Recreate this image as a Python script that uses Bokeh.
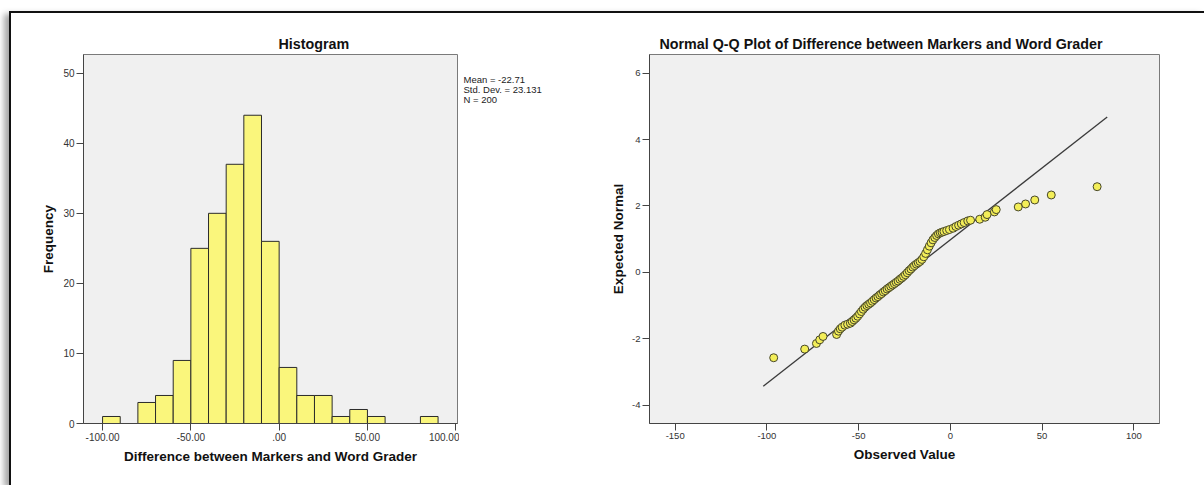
from bokeh.plotting import figure
from bokeh.layouts import row
from bokeh.models import Range1d, FixedTicker
from bokeh.core.properties import value
from bokeh.embed import file_html
from bokeh.resources import INLINE

FONT = "Liberation Sans"

# ---- Histogram of the differences (bin width 10) ----
bin_left = [-100, -90, -80, -70, -60, -50, -40, -30, -20, -10,
            0, 10, 20, 30, 40, 50, 60, 70, 80]
bin_width = 10
counts = [1, 0, 3, 4, 9, 25, 30, 37, 44, 26,
          8, 4, 4, 1, 2, 1, 0, 0, 1]
hist_x_ticks = [-100, -50, 0, 50, 100]
hist_x_tick_labels = ["-100.00", "-50.00", ".00", "50.00", "100.00"]
hist_y_ticks = [0, 10, 20, 30, 40, 50]

mean = -22.71
std_dev = 23.131
n_cases = 200

# ---- Normal Q-Q plot: observed value vs expected normal score ----
observed = [
    -96.3, -79.4, -73.0, -71.2, -69.4,
    -62.0, -61.0, -60.0, -59.0, -57.5, -56.0, -54.5, -53.5, -52.5, -51.5,
    -50.5, -49.5, -48.5, -47.5, -46.5, -45.5, -44.5, -43.5, -42.5, -41.5,
    -40.5, -39.5, -38.5, -37.5, -36.5, -35.5, -34.5, -33.5, -32.5, -31.5,
    -30.5, -29.5, -28.5, -27.5, -26.5, -25.5, -24.5, -23.5, -22.5, -21.5,
    -20.5, -19.5, -18.5, -17.5, -16.5, -15.5, -14.5, -13.5, -12.5, -11.5,
    -10.5, -9.5, -8.5, -7.5, -6.5, -5.5, -4.5, -3.5, -2.0, -0.5,
    1.5, 3.0, 4.5, 6.0, 7.5, 9.5, 11.0,
    16.0, 19.0, 20.0, 24.0, 25.0,
    37.0, 41.0, 46.0, 55.0, 80.0,
]
expected = [
    -2.57, -2.31, -2.14, -2.03, -1.93,
    -1.87, -1.77, -1.70, -1.65, -1.59, -1.56, -1.53, -1.48, -1.43, -1.38,
    -1.32, -1.25, -1.18, -1.11, -1.05, -1.00, -0.96, -0.92, -0.87, -0.82,
    -0.77, -0.73, -0.68, -0.64, -0.59, -0.55, -0.50, -0.46, -0.42, -0.38,
    -0.34, -0.30, -0.26, -0.21, -0.17, -0.12, -0.07, -0.01, 0.05, 0.10,
    0.16, 0.21, 0.25, 0.29, 0.33, 0.39, 0.47, 0.57, 0.68, 0.79,
    0.89, 0.98, 1.05, 1.11, 1.16, 1.19, 1.21, 1.23, 1.26, 1.29,
    1.33, 1.38, 1.42, 1.46, 1.50, 1.55, 1.57,
    1.60, 1.66, 1.74, 1.82, 1.89,
    1.97, 2.06, 2.18, 2.33, 2.58,
]
qq_x_ticks = [-150, -100, -50, 0, 50, 100]
qq_y_ticks = [-4, -2, 0, 2, 4, 6]
ref_line_x = [-102.0, 85.5]


def plain_labels(ticks):
    # ASCII hyphen for negatives, as in the SPSS output
    return {t: str(t) for t in ticks}


def style_plot(p, ylabel, xlabel, tick_font, title_offset):
    p.background_fill_color = "#F0F0F0"
    p.border_fill_color = "white"
    p.outline_line_color = "#7a7a7a"
    p.outline_line_width = 1
    p.grid.visible = False
    p.title.align = "left"
    p.title.offset = title_offset
    p.title.text_font = FONT
    p.title.text_font_style = "bold"
    p.title.text_font_size = "14.3px"
    p.title.text_color = "#111111"
    p.title.standoff = 6
    for ax in (p.xaxis[0], p.yaxis[0]):
        ax.axis_line_color = "#444444"
        ax.major_tick_line_color = "#444444"
        ax.major_tick_out = 7
        ax.major_tick_in = 0
        ax.minor_tick_line_color = None
        ax.major_label_text_font = FONT
        ax.major_label_text_font_size = tick_font
        ax.major_label_text_color = "#333333"
        ax.major_label_standoff = 2
        ax.axis_label_text_font = FONT
        ax.axis_label_text_font_style = "bold"
        ax.axis_label_text_font_size = "13.5px"
        ax.axis_label_text_color = "#111111"
    p.xaxis[0].axis_label_standoff = 5
    p.yaxis[0].axis_label_standoff = 4
    p.yaxis[0].axis_label = ylabel
    p.xaxis[0].axis_label = xlabel


# Histogram panel
p1 = figure(width=448, height=472, title="Histogram",
            x_range=Range1d(-110.8, 101), y_range=Range1d(0, 52.67),
            output_backend="svg", toolbar_location=None,
            min_border_left=72, min_border_right=2,
            min_border_top=41, min_border_bottom=62)
style_plot(p1, "Frequency", "Difference between Markers and Word Grader",
           "10px", 195)

lefts = [b for b, c in zip(bin_left, counts) if c > 0]
tops = [c for c in counts if c > 0]
rights = [b + bin_width for b in lefts]
p1.quad(left=lefts, right=rights, bottom=0, top=tops,
        fill_color="#FAF67C", line_color="#2b2b2b", line_width=1)

p1.xaxis[0].ticker = FixedTicker(ticks=hist_x_ticks)
p1.xaxis[0].major_label_overrides = {t: s for t, s in zip(hist_x_ticks, hist_x_tick_labels)}
p1.yaxis[0].ticker = FixedTicker(ticks=hist_y_ticks)

# Summary statistics beside the histogram; shares the frequency scale so the
# lines sit level with the top of the histogram frame
p_stats = figure(width=141, height=472,
                 x_range=Range1d(0, 141), y_range=p1.y_range,
                 output_backend="svg", toolbar_location=None,
                 min_border=0)
p_stats.axis.visible = False
p_stats.grid.visible = False
p_stats.outline_line_color = None
p_stats.background_fill_color = "white"
p_stats.border_fill_color = "white"
stats_lines = [f"Mean = {mean}", f"Std. Dev. = {std_dev}", f"N = {n_cases}"]
p_stats.text(x=[4, 4, 4], y=[49.1, 47.68, 46.26], text=stats_lines,
             text_font=value(FONT), text_font_size=value("9.5px"),
             text_color="#222222", text_baseline="middle", text_align="left")

# Normal Q-Q panel
p2 = figure(width=604, height=472,
            title="Normal Q-Q Plot of Difference between Markers and Word Grader",
            x_range=Range1d(-164, 114), y_range=Range1d(-4.55, 6.56),
            output_backend="svg", toolbar_location=None,
            min_border_left=49, min_border_right=45,
            min_border_top=41, min_border_bottom=62)
style_plot(p2, "Expected Normal", "Observed Value", "9.5px", 10)
p2.yaxis[0].axis_label_standoff = 3

ref_line_y = [(x - mean) / std_dev for x in ref_line_x]
p2.line(ref_line_x, ref_line_y, line_color="#3a3a3a", line_width=1.3)
p2.scatter(observed, expected, size=8, marker="circle",
           fill_color="#F3EE58", line_color="#46462a", line_width=1)

p2.xaxis[0].ticker = FixedTicker(ticks=qq_x_ticks)
p2.xaxis[0].major_label_overrides = plain_labels(qq_x_ticks)
p2.yaxis[0].ticker = FixedTicker(ticks=qq_y_ticks)
p2.yaxis[0].major_label_overrides = plain_labels(qq_y_ticks)

layout = row(p1, p_stats, p2, styles={
    "margin-left": "9px",
    "margin-top": "11px",
    "border-left": "2px solid #111111",
    "border-top": "2px solid #111111",
    "box-shadow": "-5px 3px 6px rgba(0,0,0,0.35)",
})

html = file_html(layout, INLINE, title="Difference between Markers and Word Grader")
open("out.html", "w").write(html)
